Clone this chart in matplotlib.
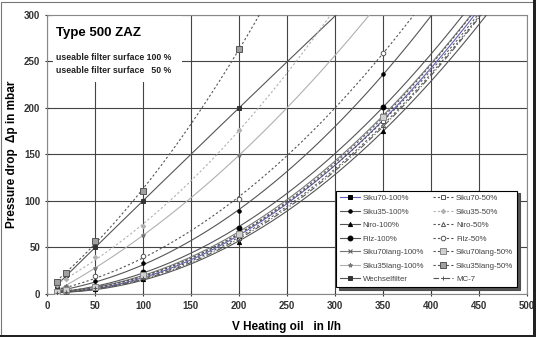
import numpy as np
import matplotlib
matplotlib.use("Agg")
import matplotlib.pyplot as plt
from matplotlib.patches import Rectangle

plt.rcParams['font.family'] = ['Liberation Sans', 'DejaVu Sans']

# ---- data (flow in l/h, pressure drop in mbar) ----
flow = [10, 20, 50, 100, 200, 350]

siku70_100 = [1, 2, 6, 19, 62, 187]
siku35_100 = [2, 5, 14, 33, 89, 236]
niro_100 = [1, 2, 5, 16, 56, 175]
filz_100 = [1, 3, 9, 24, 71, 201]
siku70lang_100 = [1, 3, 8, 22, 65, 192]
siku35lang_100 = [4, 9, 28, 63, 149]
wechselfilter = [9, 20, 50, 100, 200]
siku70_50 = [1, 3, 7, 21, 63, 186]
siku35_50 = [10, 16, 40, 73, 176]
niro_50 = [1, 2, 6, 18, 60, 182]
filz_50 = [3, 6, 19, 41, 102, 259]
siku70lang_50 = [2, 4, 8, 20, 64, 190]
siku35lang_50 = [13, 23, 57, 111, 263]
mc7 = [1, 2, 6, 17, 58, 180]

x_ticks = [0, 50, 100, 150, 200, 250, 300, 350, 400, 450, 500]
y_ticks = [0, 50, 100, 150, 200, 250, 300]

DK = '#555555'
LT = '#b0b0b0'
DASH = (0, (2, 2))
series = [
    ("Siku70-100%", siku70_100, dict(color='#6060b0', ls='-', marker='s', mfc='black', mec='black', ms=2.5)),
    ("Siku35-100%", siku35_100, dict(color=DK, ls='-', marker='o', mfc='black', mec='black', ms=2.5)),
    ("Niro-100%", niro_100, dict(color=DK, ls='-', marker='^', mfc='black', mec='black', ms=3)),
    ("Filz-100%", filz_100, dict(color=DK, ls='-', marker='o', mfc='black', mec='black', ms=3.5)),
    ("Siku70lang-100%", siku70lang_100, dict(color='#777777', ls='-', marker='x', mfc=DK, mec=DK, ms=2.5)),
    ("Siku35lang-100%", siku35lang_100, dict(color=LT, ls='-', marker='*', mfc='#777777', mec='#777777', ms=3)),
    ("Wechselfilter", wechselfilter, dict(color=DK, ls='-', marker='s', mfc='#333333', mec='#333333', ms=2.5)),
    ("Siku70-50%", siku70_50, dict(color=DK, ls=DASH, marker='s', mfc='white', mec=DK, ms=2.8)),
    ("Siku35-50%", siku35_50, dict(color=LT, ls=DASH, marker='D', mfc=LT, mec=LT, ms=2.3)),
    ("Niro-50%", niro_50, dict(color=DK, ls=DASH, marker='^', mfc='white', mec=DK, ms=3)),
    ("Filz-50%", filz_50, dict(color=DK, ls=DASH, marker='o', mfc='white', mec=DK, ms=3.3)),
    ("Siku70lang-50%", siku70lang_50, dict(color=DK, ls=DASH, marker='s', mfc='#d0d0d0', mec='#888888', ms=4.5)),
    ("Siku35lang-50%", siku35lang_50, dict(color=DK, ls=DASH, marker='s', mfc='#a0a0a0', mec='#555555', ms=4)),
    ("MC-7", mc7, dict(color=DK, ls=(0, (5, 2, 1, 2)), marker='+', mfc=DK, mec=DK, ms=3)),
]

fig = plt.figure(figsize=(5.36, 3.37), dpi=100)
ax = fig.add_axes([0.0877, 0.1276, 0.895, 0.828])

xf = np.linspace(10, 500, 600)
handles = []
for name, vals, st in series:
    xs = np.array(flow[:len(vals)], float)
    ys = np.array(vals, float)
    coef = np.polyfit(xs, ys, 2)
    yf = np.polyval(coef, xf)
    ax.plot(xf, yf, color=st['color'], ls=st['ls'], lw=0.8, zorder=3)
    ax.plot(xs, ys, ls='none', marker=st['marker'], mfc=st['mfc'], mec=st['mec'],
            ms=st['ms'], mew=0.7, zorder=4)
    h, = ax.plot([], [], color=st['color'], ls=st['ls'], lw=0.8, marker=st['marker'],
                 mfc=st['mfc'], mec=st['mec'], ms=st['ms'], mew=0.7, label=name)
    handles.append(h)

ax.set_xlim(0, 500)
ax.set_ylim(0, 300)
ax.set_xticks(x_ticks)
ax.set_yticks(y_ticks)
ax.grid(True, color='#444444', lw=0.8, zorder=0)
ax.set_axisbelow(True)
for sp in ax.spines.values():
    sp.set_color('#888888')
    sp.set_linewidth(0.8)
ax.tick_params(axis='both', labelsize=7, colors='#333333', length=3, width=0.8, direction='inout')
for lab in ax.get_xticklabels() + ax.get_yticklabels():
    lab.set_fontweight('bold')
    lab.set_color('#333333')

ax.set_xlabel("V Heating oil   in l/h", fontsize=8.5, fontweight='bold', labelpad=7)
ax.set_ylabel("Pressure drop  \u0394p in mbar", fontsize=8.5, fontweight='bold', labelpad=4)

# white area behind the title texts
ax.add_patch(Rectangle((0.0125, 0.76), 0.269, 0.24, transform=ax.transAxes,
                       facecolor='white', edgecolor='none', zorder=2.5))
ax.text(0.019, 0.935, "Type 500 ZAZ", transform=ax.transAxes, fontsize=9.5, fontweight='bold',
        va='center', ha='left', zorder=5)
ax.text(0.019, 0.846, "useable filter surface 100 %", transform=ax.transAxes, fontsize=6.3,
        fontweight='bold', va='center', ha='left', color='#222222', zorder=5)
ax.text(0.019, 0.800, "useable filter surface   50 %", transform=ax.transAxes, fontsize=6.3,
        fontweight='bold', va='center', ha='left', color='#222222', zorder=5)

leg = ax.legend(handles=handles, ncol=2, loc='lower left',
                bbox_to_anchor=(301, 7.5, 189, 104.5), bbox_transform=ax.transData,
                mode='expand', fontsize=5.7, frameon=True, fancybox=False, handlelength=2.5,
                handletextpad=0.4, columnspacing=0.5, labelspacing=0.75, borderpad=0.5,
                numpoints=1, borderaxespad=0,
                shadow={'facecolor': '#555555', 'alpha': 1.0})
leg.get_frame().set_edgecolor('black')
leg.get_frame().set_linewidth(0.8)
leg.set_zorder(7)
for t in leg.get_texts():
    t.set_color('#444444')

# figure frame
fig.patches.append(Rectangle((0.002, 0.004), 0.994, 0.99, transform=fig.transFigure,
                             facecolor='none', edgecolor='#777777', lw=0.8))
fig.patches.append(Rectangle((0.0, 0.0), 1.0, 0.006, transform=fig.transFigure,
                             facecolor='#222222', edgecolor='none'))
fig.patches.append(Rectangle((0.994, 0.0), 0.006, 1.0, transform=fig.transFigure,
                             facecolor='#222222', edgecolor='none'))

fig.savefig("out.png", dpi=100)
